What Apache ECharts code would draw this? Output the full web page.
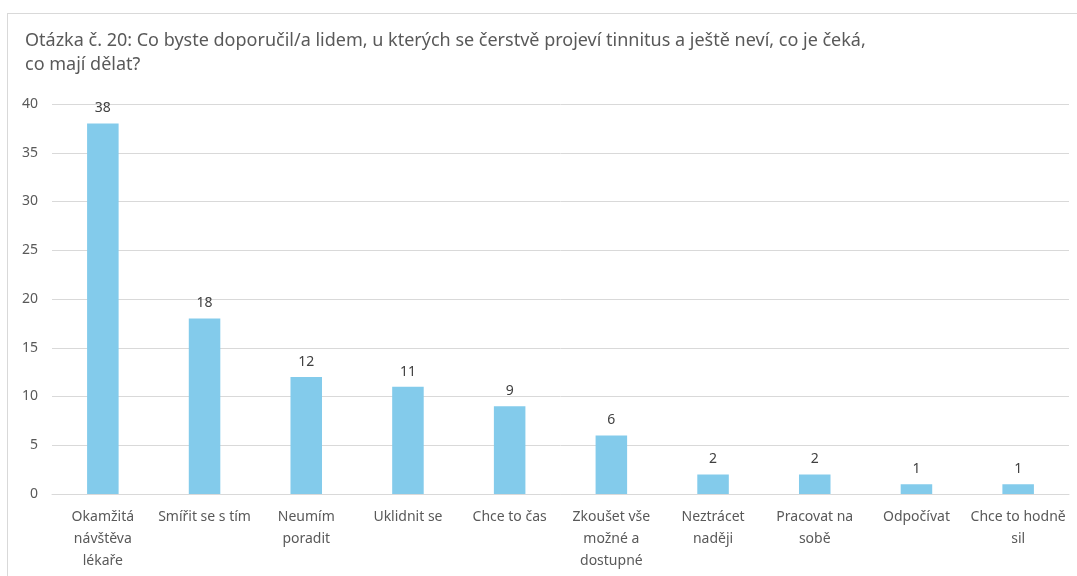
<!DOCTYPE html>
<html>
<head>
    <meta charset="utf-8">
    <title>Otázka č. 20</title>
    <script src="https://cdn.jsdelivr.net/npm/echarts@6/dist/echarts.min.js"></script>
    <style>
        html, body { margin: 0; padding: 0; background: #fff; }
        #frame { position: absolute; left: 7px; top: 13px; width: 1080px; height: 600px; border: 1px solid #d9d9d9; box-sizing: border-box; }
        #main { position: absolute; left: 0; top: 0; width: 1077px; height: 576px; }
    </style>
</head>
<body>
    <div id="frame"></div>
    <div id="main"></div>
    <script type="text/javascript">
        // popisky kategorií se zalomením jako v originále
        var categories = ['Okamžitá\nnávštěva\nlékaře', 'Smířit se s tím', 'Neumím\nporadit', 'Uklidnit se', 'Chce to čas',
            'Zkoušet vše\nmožné a\ndostupné', 'Neztrácet\nnaději', 'Pracovat na\nsobě', 'Odpočívat', 'Chce to hodně\nsil'];
        var values = [38, 18, 12, 11, 9, 6, 2, 2, 1, 1];

        var font = '"Noto Sans", sans-serif';
        var myChart = echarts.init(document.getElementById('main'));

        var option = {
            animation: false,
            title: {
                text: 'Otázka č. 20: Co byste doporučil/a lidem, u kterých se čerstvě projeví tinnitus a ještě neví, co je čeká,\nco mají dělat?',
                left: 20,
                top: 24,
                textStyle: {
                    color: '#595959',
                    fontFamily: font,
                    fontSize: 18,
                    fontWeight: 'normal',
                    lineHeight: 24
                }
            },
            grid: {
                left: 52,
                right: 8,
                top: 104,
                bottom: 82
            },
            xAxis: {
                type: 'category',
                data: categories,
                axisLine: { lineStyle: { color: '#d9d9d9', width: 1 } },
                axisTick: { show: false },
                axisLabel: {
                    interval: 0,
                    margin: 12,
                    color: '#595959',
                    fontFamily: font,
                    fontSize: 14,
                    lineHeight: 22
                }
            },
            yAxis: {
                type: 'value',
                min: 0,
                max: 40,
                interval: 5,
                axisLine: { show: false },
                axisTick: { show: false },
                splitLine: { lineStyle: { color: '#d9d9d9', width: 1 } },
                axisLabel: {
                    margin: 14,
                    color: '#595959',
                    fontFamily: font,
                    fontSize: 14
                }
            },
            series: [{
                type: 'bar',
                data: values,
                barWidth: '31%',
                itemStyle: { color: '#83cbeb' },
                label: {
                    show: true,
                    position: 'top',
                    distance: 8,
                    color: '#404040',
                    fontFamily: font,
                    fontSize: 14
                }
            }]
        };

        myChart.setOption(option);
    </script>
</body>
</html>
